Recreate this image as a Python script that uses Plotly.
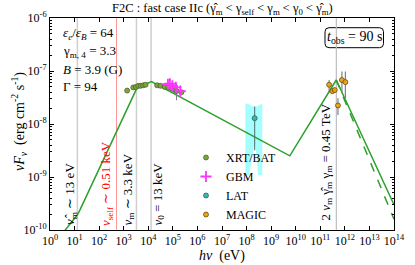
import plotly.graph_objects as go

# ---------------- data ----------------
# synchrotron + SSC model (solid) and absorbed model (dashed)
model_E = [3.16, 4.79, 7.08, 10.5, 13.2, 16.6, 22.4, 3470, 13500, 5.75e9, 4.47e11, 1e14]
model_F = [8.5e-11, 1.07e-10, 1.32e-10, 1.66e-10, 1.95e-10, 2.40e-10, 3.24e-10,
           4.79e-8, 6.31e-8, 2.51e-9, 6.76e-8, 3.0e-10]
model_abs_E = [4.47e11, 1e14]
model_abs_F = [6.76e-8, 1.6e-10]

# characteristic energies (eV)
nu_hat_m = 13
nu_self = 510
nu_m = 3300
nu_0 = 13000
nu_ssc = 4.5e11

# XRT/BAT
xrt_E = [1380, 2450, 3160, 3890, 4900, 6170, 7760, 22900, 31600, 46800, 64600, 89100, 120000, 141000, 224000]
xrt_F = [4.27e-8, 4.90e-8, 5.01e-8, 5.25e-8, 5.25e-8, 5.37e-8, 5.50e-8, 5.37e-8, 5.25e-8,
         5.01e-8, 4.90e-8, 4.68e-8, 4.37e-8, 4.20e-8, 3.98e-8]
xrt_up = [0.15e-8] * 13 + [1.6e-8, 0.3e-8]
xrt_dn = [0.15e-8] * 13 + [1.4e-8, 0.3e-8]

# GBM
gbm_E = [63100, 75900, 95500, 132000, 200000]
gbm_F = [5.62e-8, 5.75e-8, 5.25e-8, 4.90e-8, 4.17e-8]

# LAT point and butterfly
lat_E = [2.14e8]
lat_F = [1.29e-8]
lat_up = [0.85e-8]
lat_dn = [0.97e-8]
band_up_E = [8.85e7, 1.35e8, 1.63e8, 2.15e8, 2.85e8, 3.44e8, 4.35e8]
band_up_F = [2.46e-8, 2.33e-8, 2.19e-8, 2.12e-8, 2.19e-8, 2.33e-8, 2.46e-8]
band_lo_E = [8.85e7, 1.27e8, 1.62e8, 1.95e8, 2.14e8, 2.34e8, 2.95e8, 4.35e8]
band_lo_F = [1.09e-9, 1.09e-9, 2.09e-9, 3.52e-9, 4.39e-9, 3.52e-9, 1.09e-9, 1.09e-9]

# MAGIC
magic_E = [2.29e11, 3.09e11, 3.89e11, 5.25e11, 7.59e11, 1.05e12]
magic_F = [5.50e-8, 4.17e-8, 4.37e-8, 2.24e-8, 6.76e-8, 6.17e-8]
magic_up = [1.26e-8, 0.3e-8, 0.3e-8, 0.81e-8, 3.0e-8, 3.6e-8]
magic_dn = [1.43e-8, 0.3e-8, 0.3e-8, 0.76e-8, 2.96e-8, 3.12e-8]

x_decades = list(range(0, 15))
y_decades = [-10, -9, -8, -7, -6]

# ---------------- figure ----------------
SERIF = "Liberation Serif"
GREEN = "#2ca02c"
GRAY_LINE = "#cfcfcf"
Y_LO, Y_HI = 1e-10, 1e-6

fig = go.Figure()

# vertical reference lines
for e, col, w in [(nu_hat_m, GRAY_LINE, 1.5), (nu_m, GRAY_LINE, 1.5), (nu_0, GRAY_LINE, 1.5),
                  (nu_ssc, "#bdbdbd", 1.2), (nu_self, "rgba(255,60,60,0.55)", 1.0)]:
    fig.add_trace(go.Scatter(x=[e, e], y=[Y_LO, Y_HI], mode="lines",
                             line=dict(color=col, width=w), showlegend=False, hoverinfo="skip"))

# LAT butterfly
fig.add_trace(go.Scatter(x=band_up_E + band_lo_E[::-1], y=band_up_F + band_lo_F[::-1],
                         mode="lines", fill="toself", fillcolor="rgba(0,255,255,0.35)",
                         line=dict(width=0), showlegend=False, hoverinfo="skip"))

# model lines
fig.add_trace(go.Scatter(x=model_E, y=model_F, mode="lines",
                         line=dict(color=GREEN, width=1.5), showlegend=False))
fig.add_trace(go.Scatter(x=model_abs_E, y=model_abs_F, mode="lines",
                         line=dict(color=GREEN, width=1.5, dash="dash"), showlegend=False))

# data
fig.add_trace(go.Scatter(x=xrt_E, y=xrt_F, mode="markers", name="XRT/BAT",
                         marker=dict(color="#7aa53a", size=5, line=dict(color="#4a5a2a", width=0.7)),
                         error_y=dict(type="data", array=xrt_up, arrayminus=xrt_dn, color="#808080",
                                      thickness=1, width=0)))
fig.add_trace(go.Scatter(x=gbm_E, y=gbm_F, mode="markers", name="GBM",
                         marker=dict(symbol="cross-thin", size=8, color="#ff33ff",
                                     line=dict(color="#ff33ff", width=1.8))))
fig.add_trace(go.Scatter(x=lat_E, y=lat_F, mode="markers", name="LAT",
                         marker=dict(color="#3cb4b4", size=5, line=dict(color="#2a5555", width=0.7)),
                         error_y=dict(type="data", array=lat_up, arrayminus=lat_dn, color="#4d6b6b",
                                      thickness=1, width=0)))
fig.add_trace(go.Scatter(x=magic_E, y=magic_F, mode="markers", name="MAGIC",
                         marker=dict(color="#e8a317", size=5, line=dict(color="#5a4010", width=0.7)),
                         error_y=dict(type="data", array=magic_up, arrayminus=magic_dn, color="#808080",
                                      thickness=1.2, width=0)))

def px2paper_x(px):
    return (px - 50) / 344.0

def px2paper_y(py):
    return (230 - py) / 212.0

ann = []
# title
ann.append(dict(text="F2C : fast case IIc (γ\u0302<sub>m</sub> < γ<sub>self</sub> < γ<sub>m</sub> < γ<sub>0</sub> < γ\u0302<sub>m</sub>)",
                x=0.5, y=px2paper_y(9), xref="paper", yref="paper", showarrow=False,
                font=dict(size=12.5, family=SERIF, color="black"), xanchor="center", yanchor="middle"))
# parameter box
for txt, py in [("<i>ε</i><sub><i>e</i></sub>/<i>ε</i><sub><i>B</i></sub> = 64", 33),
                ("γ<sub>m, 4</sub> = 3.3", 52),
                ("<i>B</i> = 3.9 (G)", 70),
                ("Γ = 94", 86)]:
    ann.append(dict(text=txt, x=px2paper_x(61), y=px2paper_y(py), xref="paper", yref="paper",
                    showarrow=False, xanchor="left", yanchor="middle",
                    font=dict(size=13, family=SERIF, color="black")))
# t_obs
ann.append(dict(text="<i>t</i><sub>obs</sub> = 90 s", x=px2paper_x(354.5), y=px2paper_y(37.5),
                xref="paper", yref="paper", showarrow=False, xanchor="center", yanchor="middle",
                font=dict(size=14, family=SERIF, color="black")))
# rotated labels
for txt, cx, bottom, col in [
        ("<i>ν\u0302</i><sub>m</sub> ∼ 13 eV", 70, 227, "black"),
        ("<i>ν</i><sub>self</sub> ∼ 0.51 keV", 106.5, 228, "red"),
        ("<i>ν</i><sub>m</sub> ∼ 3.3 keV", 127.5, 228, "black"),
        ("<i>ν</i><sub>0</sub> = 13 keV", 158, 228, "black"),
        ("2 <i>ν</i><sub>m</sub> γ\u0302<sub>m</sub> γ<sub>m</sub> = 0.45 TeV", 326, 223, "black")]:
    ann.append(dict(text=txt, x=px2paper_x(cx), y=px2paper_y(bottom), xref="paper", yref="paper",
                    showarrow=False, textangle=-90, xanchor="center", yanchor="bottom",
                    font=dict(size=13, family=SERIF, color=col)))
# axis titles
ann.append(dict(text="<i>νF<sub>ν</sub></i>  (erg cm<sup>-2</sup> s<sup>-1</sup>)", x=px2paper_x(19),
                y=px2paper_y(122), xref="paper", yref="paper", showarrow=False, textangle=-90,
                xanchor="center", yanchor="middle", font=dict(size=14, family=SERIF, color="black")))
ann.append(dict(text="<i>hν</i>  (eV)", x=0.5, y=px2paper_y(256), xref="paper", yref="paper",
                showarrow=False, xanchor="center", yanchor="middle",
                font=dict(size=14, family=SERIF, color="black")))

# rounded box around t_obs
x0, x1 = px2paper_x(325), px2paper_x(383.5)
y0, y1 = px2paper_y(47.7), px2paper_y(27.7)
rx, ry = 4 / 344.0, 4 / 212.0
path = (f"M {x0+rx},{y0} L {x1-rx},{y0} Q {x1},{y0} {x1},{y0+ry} L {x1},{y1-ry} "
        f"Q {x1},{y1} {x1-rx},{y1} L {x0+rx},{y1} Q {x0},{y1} {x0},{y1-ry} "
        f"L {x0},{y0+ry} Q {x0},{y0} {x0+rx},{y0} Z")
shapes = [dict(type="path", path=path, xref="paper", yref="paper",
               line=dict(color="black", width=1), fillcolor="white", layer="below")]

minor_y = [m * 10.0 ** k for k in y_decades[:-1] for m in range(2, 10)]

fig.update_layout(
    width=415, height=265,
    margin=dict(l=50, r=21, t=18, b=35, autoexpand=False),
    paper_bgcolor="white", plot_bgcolor="white",
    font=dict(family=SERIF, size=12, color="black"),
    annotations=ann, shapes=shapes,
    showlegend=True,
    legend=dict(x=px2paper_x(186), y=px2paper_y(229), xanchor="left", yanchor="bottom",
                bgcolor="rgba(0,0,0,0)", borderwidth=0, font=dict(size=12, family=SERIF),
                itemwidth=30, tracegroupgap=0),
    xaxis=dict(type="log", range=[0, 14], showgrid=False, zeroline=False, automargin=False,
               showline=True, linecolor="black", linewidth=1, mirror="ticks",
               ticks="inside", ticklen=4, tickcolor="black",
               tickvals=[10.0 ** k for k in x_decades],
               ticktext=[f"10<sup>{k}</sup>" for k in x_decades],
               tickfont=dict(size=12, family=SERIF)),
    yaxis=dict(type="log", range=[-10, -6], showgrid=False, zeroline=False, automargin=False,
               showline=True, linecolor="black", linewidth=1, mirror="ticks",
               ticks="inside", ticklen=4, tickcolor="black",
               tickvals=[10.0 ** k for k in y_decades],
               ticktext=[f"10<sup>{k}</sup>" for k in y_decades],
               tickfont=dict(size=12, family=SERIF),
               minor=dict(tickvals=minor_y, ticks="inside", ticklen=2, tickcolor="black", showgrid=False)),
)

fig.write_html("out.html", config={"displayModeBar": False},
               post_script="document.body.style.margin='0px';")
